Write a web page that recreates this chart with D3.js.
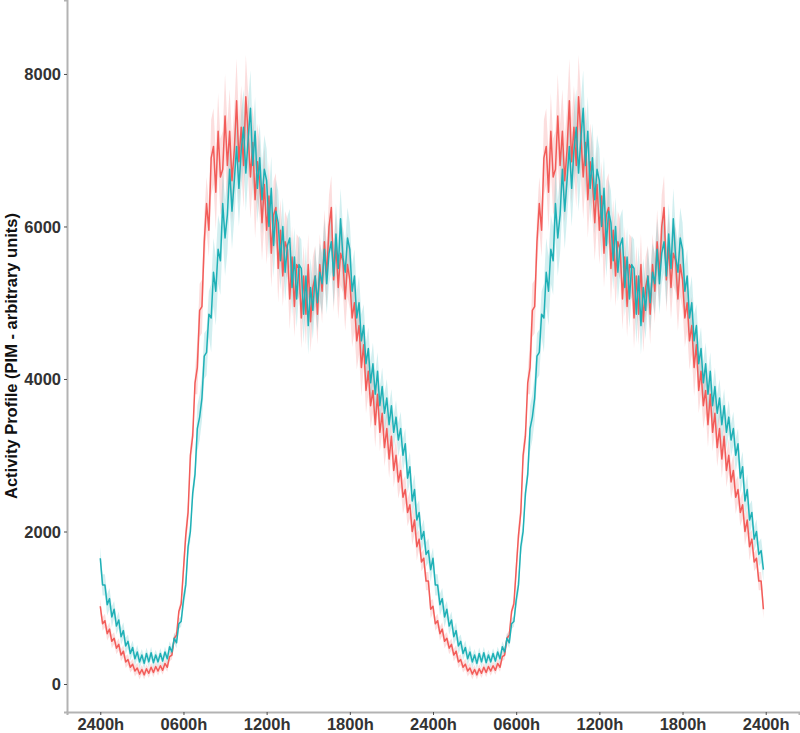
<!DOCTYPE html>
<html>
  <head>
    <meta charset="utf-8">
    <title>Activity profile</title>
    <script src="https://d3js.org/d3.v7.min.js"></script>
    <style>
      body { margin: 0; background: #fff; }
      .tick text { font-family: "Liberation Sans", Arial, sans-serif; font-weight: bold; font-size: 16.5px; fill: #333; }
      .ytitle { font-family: "Liberation Sans", Arial, sans-serif; font-weight: bold; font-size: 16.5px; fill: #111; }
    </style>
  </head>
  <body>
    <svg id="chart" width="800" height="733"></svg>
    <script>
      // one day of 10-minute means (00:00 .. 23:50), double plotted over 48 h
      const stepHours = 1 / 6
      const tickHours = [0, 6, 12, 18, 24, 30, 36, 42, 48]
      const tickLabels = ["2400h", "0600h", "1200h", "1800h", "2400h", "0600h", "1200h", "1800h", "2400h"]
      const yTicks = [0, 2000, 4000, 6000, 8000]

      const redValues = [
        1020, 790, 830, 660, 720, 560, 600, 470, 520, 380, 430, 290,
        320, 220, 260, 170, 210, 130, 190, 120, 200, 140, 220, 150,
        230, 170, 240, 180, 270, 220, 360, 380, 600, 640, 950, 1050,
        1500, 1950, 2250, 3000, 3250, 3950, 4150, 4900, 4950, 5800, 6300, 5950,
        6900, 7050, 6450, 7250, 6650, 6750, 7450, 6800, 7250, 6600, 7000, 7650,
        6850, 7300, 6800, 7700, 7200, 6650, 7100, 6350, 6850, 6600, 6050, 6550,
        5950, 6400, 5650, 6150, 6250, 5450, 5950, 5350, 5800, 5700, 5050, 5600,
        4950, 5500, 5450, 4800, 5350, 4850, 5500, 4750, 5200, 5350, 4850, 5500,
        5150, 5800, 5350, 6000, 6250, 5300, 5750, 5200, 5650, 5550, 5050, 5500,
        5300, 4800, 5000, 4500, 4700, 4150, 4450, 3850, 4100, 3650, 3850, 3400,
        3800, 3300, 3550, 3100, 3350, 2950, 3250, 2800, 3000, 2650, 2800, 2450,
        2550, 2250, 2350, 2000, 2150, 1800, 1900, 1600, 1650, 1350, 1350, 980
      ]
      const tealValues = [
        1650, 1300, 1300, 1040, 1120, 880, 980, 760, 840, 620, 700, 500,
        560, 400, 480, 330, 420, 290, 380, 270, 400, 290, 410, 280,
        380, 290, 400, 300, 420, 330, 490, 420, 600, 540, 790, 820,
        1100, 1300, 1800, 2000, 2500, 2750, 3350, 3500, 3750, 4300, 4350, 4850,
        4800, 5400, 5150, 5700, 5550, 6300, 5850, 6150, 6750, 6200, 6600, 7050,
        6500, 7000, 7300, 6700, 7150, 7550, 6800, 7250, 6500, 6900, 6350, 6750,
        6600, 6000, 6500, 5750, 6200, 6050, 5550, 6000, 5400, 5750, 5850, 5200,
        5600, 5050, 5500, 5450, 4850, 5350, 4700, 5200, 4900, 5350, 5000, 5400,
        5250, 5700, 5250, 5650, 5800, 5350, 5900, 5450, 6100, 5600, 5400, 5850,
        5700, 5150, 5350, 4800, 5000, 4500, 4700, 4200, 4400, 3950, 4200, 3800,
        4100, 3650, 3900, 3550, 3750, 3400, 3650, 3300, 3500, 3200, 3350, 3000,
        3150, 2700, 2850, 2400, 2550, 2150, 2250, 1900, 2000, 1700, 1750, 1500
      ]
      // hourly standard error used for the ribbons
      const redSE = [90, 80, 70, 60, 60, 60, 150, 350, 500, 550, 550, 500, 450, 400, 400, 400, 420, 420, 380, 300, 250, 220, 180, 120]
      const tealSE = [140, 110, 90, 80, 70, 70, 120, 300, 450, 500, 500, 450, 420, 380, 380, 380, 400, 400, 350, 280, 250, 220, 200, 160]

      const svg = d3.select("#chart")
      const margin = {top: 0, right: 1, bottom: 21, left: 67}
      const width = 800 - margin.left - margin.right
      const height = 733 - margin.top - margin.bottom

      const x = d3.scaleLinear().domain([-2.4, 50.4]).range([margin.left, margin.left + width])
      const y = d3.scaleLinear().domain([-367, 8970]).range([margin.top + height, margin.top])

      function series(values, se) {
        const pts = []
        for (let day = 0; day < 2; day++) {
          values.forEach((v, i) => {
            const h = i * stepHours
            pts.push({h: day * 24 + h, v: v, se: se[Math.floor(h)]})
          })
        }
        return pts
      }

      const groups = [
        {name: "red", color: "#F25C59", data: series(redValues, redSE)},
        {name: "teal", color: "#1FB0B6", data: series(tealValues, tealSE)}
      ]

      const area = d3.area()
        .x(d => x(d.h))
        .y0(d => y(d.v - d.se))
        .y1(d => y(d.v + d.se))

      const line = d3.line()
        .x(d => x(d.h))
        .y(d => y(d.v))

      const plot = svg.append("g")

      plot.selectAll("path.ribbon")
        .data(groups)
        .join("path")
        .attr("class", "ribbon")
        .attr("d", d => area(d.data))
        .attr("fill", d => d.color)
        .attr("opacity", 0.2)

      plot.selectAll("path.line")
        .data(groups)
        .join("path")
        .attr("class", "line")
        .attr("d", d => line(d.data))
        .attr("fill", "none")
        .attr("stroke", d => d.color)
        .attr("stroke-width", 1.5)
        .attr("stroke-linejoin", "round")

      // axes
      const xAxis = d3.axisBottom(x)
        .tickValues(tickHours)
        .tickFormat((d, i) => tickLabels[i])
        .tickSize(3)
        .tickPadding(3)
      const yAxis = d3.axisLeft(y)
        .tickValues(yTicks)
        .tickFormat(d3.format("d"))
        .tickSize(3)
        .tickPadding(3)

      const gx = svg.append("g")
        .attr("transform", "translate(0," + (margin.top + height) + ")")
        .call(xAxis)
      const gy = svg.append("g")
        .attr("transform", "translate(" + margin.left + ",0)")
        .call(yAxis)

      ;[gx, gy].forEach(g => {
        g.select(".domain").attr("stroke", "#B3B3B3").attr("stroke-width", 2)
        g.selectAll(".tick line").attr("stroke", "#4D4D4D").attr("stroke-width", 1)
      })
      gy.selectAll(".tick text").attr("dy", "0.35em")

      svg.append("text")
        .attr("class", "ytitle")
        .attr("transform", "translate(17," + (margin.top + height / 2) + ") rotate(-90)")
        .attr("text-anchor", "middle")
        .text("Activity Profile (PIM - arbitrary units)")
    </script>
  </body>
</html>
